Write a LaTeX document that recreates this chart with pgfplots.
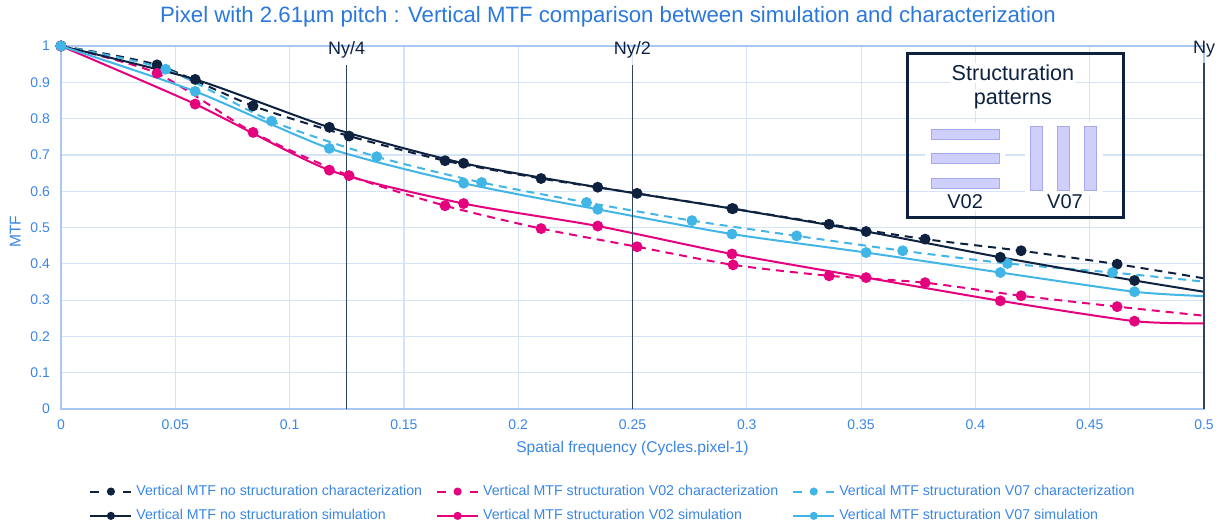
\documentclass[border=0pt]{standalone}
\usepackage{fontspec}
\setmainfont{Liberation Sans}
\usepackage{pgfplots}
\pgfplotsset{compat=1.18}
\usepackage{pgfplotstable}

\definecolor{navy}{HTML}{0E2240}
\definecolor{pinkc}{HTML}{E5007D}
\definecolor{cyanc}{HTML}{41B6E6}
\definecolor{titleblue}{HTML}{2A78DE}
\definecolor{tickblue}{HTML}{3A86E4}
\definecolor{gridc}{HTML}{D5E3F7}
\definecolor{axisc}{HTML}{A9C7F2}
\definecolor{lav}{HTML}{CFCFFB}
\definecolor{lavb}{HTML}{A8A8EE}

\pgfplotstableread{
x y
0 1
0.042 0.948
0.084 0.835
0.126 0.752
0.168 0.684
0.210 0.635
0.252 0.594
0.294 0.552
0.336 0.509
0.378 0.468
0.420 0.436
0.462 0.399
0.500 0.360
}\navychar
\pgfplotstableread{
x y
0 1
0.042 0.925
0.084 0.762
0.126 0.643
0.168 0.560
0.210 0.497
0.252 0.447
0.294 0.397
0.336 0.367
0.378 0.348
0.420 0.312
0.462 0.282
0.500 0.257
}\pinkchar
\pgfplotstableread{
x y
0 1
0.0458 0.936
0.0921 0.793
0.1381 0.695
0.1840 0.624
0.2299 0.569
0.2760 0.519
0.3218 0.477
0.3682 0.436
0.4140 0.401
0.4600 0.376
0.5000 0.351
}\cyanchar
\pgfplotstableread{
x y
0 1
0.0587 0.908
0.1174 0.776
0.1761 0.677
0.2348 0.611
0.2935 0.552
0.3522 0.489
0.4109 0.418
0.4696 0.354
0.5000 0.323
}\navysim
\pgfplotstableread{
x y
0 1
0.0587 0.840
0.1174 0.658
0.1761 0.566
0.2348 0.504
0.2935 0.427
0.3522 0.362
0.4109 0.298
0.4696 0.242
0.5000 0.236
}\pinksim
\pgfplotstableread{
x y
0 1
0.0587 0.875
0.1174 0.718
0.1761 0.622
0.2348 0.550
0.2935 0.482
0.3522 0.431
0.4109 0.376
0.4696 0.323
0.5000 0.311
}\cyansim

\begin{document}
\begin{tikzpicture}
\useasboundingbox (-30.5pt,-58.5pt) rectangle (582pt,204.5pt);
\begin{axis}[
  scale only axis, width=571.5pt, height=181.5pt,
  at={(0,0)}, anchor=south west,
  xmin=0, xmax=0.5, ymin=0, ymax=1,
  clip=false,
  xtick={0,0.05,0.1,0.15,0.2,0.25,0.3,0.35,0.4,0.45,0.5},
  xticklabels={0,0.05,0.1,0.15,0.2,0.25,0.3,0.35,0.4,0.45,0.5},
  ytick={0,0.1,0.2,0.3,0.4,0.5,0.6,0.7,0.8,0.9,1},
  yticklabels={0,0.1,0.2,0.3,0.4,0.5,0.6,0.7,0.8,0.9,1},
  grid=major, major grid style={draw=gridc, line width=0.6pt},
  axis line style={draw=axisc, line width=0.6pt},
  major tick length=0pt, tick style={draw=none},
  ticklabel style={font=\fontsize{7}{8}\selectfont, text=tickblue},
  xticklabel style={yshift=-2pt},
  yticklabel style={xshift=-2pt},
  xlabel={Spatial frequency (Cycles.pixel-1)},
  ylabel={MTF},
  label style={font=\fontsize{7.8}{9}\selectfont, text=tickblue},
  xlabel style={at={(axis description cs:0.5,-0.11)}, anchor=center},
  ylabel style={at={(axis description cs:-0.040,0.488)}, anchor=center},
  legend columns=3,
  legend cell align=left,
  legend style={at={(0.0245,-0.197)}, anchor=north west, draw=none, fill=none,
    font=\fontsize{7.1}{8}\selectfont, text=tickblue, inner sep=0pt,
    row sep=1.5pt,
    /tikz/every even column/.append style={column sep=5pt}},
  legend image code/.code={
    \draw[#1, mark=none, legpat] (0pt,0pt) -- (20.5pt,0pt);
    \fill[#1, solid] (10.25pt,0pt) circle (1.5pt);
  },
  every axis plot/.append style={line width=1pt, smooth, tension=0.4},
]
\addplot[color=navy, dash pattern=on 4pt off 3pt, mark=*, mark size=2.2pt, mark options={solid},
  mark indices={1,2,3,4,5,6,7,8,9,10,11,12},
  /tikz/legpat/.style={dash pattern=on 4.5pt off 12pt on 4pt}] table {\navychar};
\addlegendentry{Vertical MTF no structuration characterization}
\addplot[color=pinkc, dash pattern=on 4pt off 3pt, mark=*, mark size=2.2pt, mark options={solid},
  mark indices={1,2,3,4,5,6,7,8,9,10,11,12},
  /tikz/legpat/.style={dash pattern=on 4.5pt off 12pt on 4pt}] table {\pinkchar};
\addlegendentry{Vertical MTF structuration V02 characterization}
\addplot[color=cyanc, dash pattern=on 4pt off 3pt, mark=*, mark size=2.2pt, mark options={solid},
  mark indices={1,2,3,4,5,6,7,8,9,10,11},
  /tikz/legpat/.style={dash pattern=on 4.5pt off 12pt on 4pt}] table {\cyanchar};
\addlegendentry{Vertical MTF structuration V07 characterization}
\addplot[color=navy, mark=*, mark size=2.2pt,
  mark indices={1,2,3,4,5,6,7,8,9},
  /tikz/legpat/.style={}] table {\navysim};
\addlegendentry{Vertical MTF no structuration simulation}
\addplot[color=pinkc, mark=*, mark size=2.2pt,
  mark indices={1,2,3,4,5,6,7,8,9},
  /tikz/legpat/.style={}] table {\pinksim};
\addlegendentry{Vertical MTF structuration V02 simulation}
\addplot[color=cyanc, mark=*, mark size=2.2pt,
  mark indices={1,2,3,4,5,6,7,8,9},
  /tikz/legpat/.style={}] table {\cyansim};
\addlegendentry{Vertical MTF structuration V07 simulation}

% Nyquist markers
\draw[navy!85, line width=0.7pt] (axis cs:0.125,0) -- (axis cs:0.125,0.948);
\draw[navy!85, line width=0.7pt] (axis cs:0.25,0) -- (axis cs:0.25,0.948);
\draw[navy!85, line width=0.7pt] (axis cs:0.5,0) -- (axis cs:0.5,0.952);
\node[font=\fontsize{9}{10}\selectfont, text=navy] at (axis cs:0.125,0.99) {Ny/4};
\node[font=\fontsize{9}{10}\selectfont, text=navy] at (axis cs:0.25,0.99) {Ny/2};
\node[font=\fontsize{9}{10}\selectfont, text=navy] at (axis cs:0.5,0.99) {Ny};

% inset: structuration patterns
\fill[white] (axis cs:0.3780,0.600) rectangle (axis cs:0.4130,0.790);
\fill[white] (axis cs:0.4215,0.590) rectangle (axis cs:0.4560,0.790);
\fill[lav, draw=lavb, line width=0.4pt] (axis cs:0.3808,0.7424) rectangle (axis cs:0.4103,0.7713);
\fill[lav, draw=lavb, line width=0.4pt] (axis cs:0.3808,0.6769) rectangle (axis cs:0.4103,0.7044);
\fill[lav, draw=lavb, line width=0.4pt] (axis cs:0.3808,0.6080) rectangle (axis cs:0.4103,0.6364);
\fill[lav, draw=lavb, line width=0.4pt] (axis cs:0.4242,0.6014) rectangle (axis cs:0.4293,0.7796);
\fill[lav, draw=lavb, line width=0.4pt] (axis cs:0.4360,0.6014) rectangle (axis cs:0.4411,0.7796);
\fill[lav, draw=lavb, line width=0.4pt] (axis cs:0.4476,0.6014) rectangle (axis cs:0.4528,0.7796);
\node[font=\fontsize{10.8}{12}\selectfont, text=navy, fill=white, inner sep=1pt] at (axis cs:0.4164,0.9256) {Structuration};
\node[font=\fontsize{10.8}{12}\selectfont, text=navy, fill=white, inner sep=1pt] at (axis cs:0.4164,0.8512) {patterns};
\node[font=\fontsize{10}{12}\selectfont, text=navy, fill=white, inner sep=1pt] at (axis cs:0.3955,0.571) {V02};
\node[font=\fontsize{10}{12}\selectfont, text=navy, fill=white, inner sep=1pt] at (axis cs:0.4392,0.571) {V07};
\draw[navy, line width=1.5pt] (axis cs:0.3701,0.5289) rectangle (axis cs:0.4650,0.9780);
\end{axis}
\node[font=\fontsize{11.1}{13}\selectfont, text=titleblue] at (273.5pt,196pt)
  {Pixel with 2.61µm pitch : Vertical MTF comparison between simulation and characterization};
\end{tikzpicture}
\end{document}
